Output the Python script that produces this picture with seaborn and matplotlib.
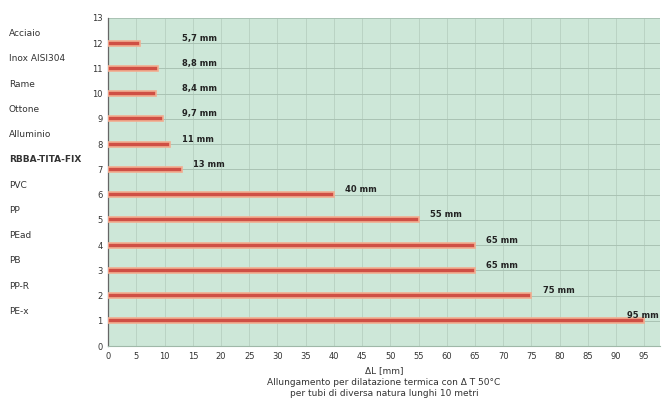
import matplotlib
matplotlib.use("Agg")
import matplotlib.pyplot as plt
import seaborn as sns
import pandas as pd
import matplotlib.transforms as mtransforms

materials = ["Acciaio", "Inox AISI304", "Rame", "Ottone", "Alluminio", "RBBA-TITA-FIX",
             "PVC", "PP", "PEad", "PB", "PP-R", "PE-x"]
positions = [12, 11, 10, 9, 8, 7, 6, 5, 4, 3, 2, 1]
values = [5.7, 8.8, 8.4, 9.7, 11, 13, 40, 55, 65, 65, 75, 95]
value_labels = ["5,7 mm", "8,8 mm", "8,4 mm", "9,7 mm", "11 mm", "13 mm",
                "40 mm", "55 mm", "65 mm", "65 mm", "75 mm", "95 mm"]
x_ticks = list(range(0, 100, 5))
y_ticks = list(range(0, 14))

df = pd.DataFrame({"material": materials, "pos": positions, "value": values})

sns.set_theme(style="white")
plt.rcParams["font.family"] = ["DejaVu Sans"]

fig = plt.figure(figsize=(6.64, 4.15), dpi=100)
ax = fig.add_axes([0.163, 0.166, 0.831, 0.791])
ax.set_facecolor("#cde7d8")

sns.barplot(data=df, x="value", y="pos", orient="h", native_scale=True,
            width=0.2, color="#cf4f45", edgecolor="#f2ad90", linewidth=1.2,
            saturation=1, ax=ax, zorder=3)

ax.set_xlim(0, 97.8)
ax.set_ylim(0, 13)
ax.set_xticks(x_ticks)
ax.set_yticks(y_ticks)
ax.set_xticklabels([str(t) for t in x_ticks], fontsize=6, color="#333333")
ax.set_yticklabels([str(t) for t in y_ticks], fontsize=6, color="#333333")
ax.tick_params(axis="both", length=2, width=0.6, pad=2, colors="#555555")
ax.tick_params(axis="both", labelcolor="#333333")

ax.grid(True, axis="y", color="#a9c2b3", linewidth=0.7, zorder=0)
ax.grid(True, axis="x", color="#bad3c4", linewidth=0.7, zorder=0)
ax.set_axisbelow(True)

for side in ["top", "right"]:
    ax.spines[side].set_visible(False)
ax.spines["left"].set_color("#666666")
ax.spines["left"].set_linewidth(0.9)
ax.spines["bottom"].set_color("#9fb8a8")
ax.spines["bottom"].set_linewidth(0.8)

ax.set_ylabel("")
ax.set_xlabel("ΔL [mm]\nAllungamento per dilatazione termica con Δ T 50°C\nper tubi di diversa natura lunghi 10 metri",
              fontsize=6.5, color="#333333", labelpad=4, linespacing=1.35)

# category labels at the left of the figure
trans = mtransforms.blended_transform_factory(fig.transFigure, ax.transData)
for name, p in zip(materials, positions):
    ax.text(0.013, p + 0.38, name, transform=trans, ha="left", va="center",
            fontsize=6.5, color="#333333",
            fontweight="bold" if name == "RBBA-TITA-FIX" else "normal")

# value labels
for v, p, lab in zip(values, positions, value_labels):
    ax.text(min(max(v, 11) + 2, 92), p + 0.2, lab, ha="left", va="center",
            fontsize=6, color="#222222", fontweight="bold", zorder=4)

fig.savefig("out.png", dpi=100, facecolor="white")
